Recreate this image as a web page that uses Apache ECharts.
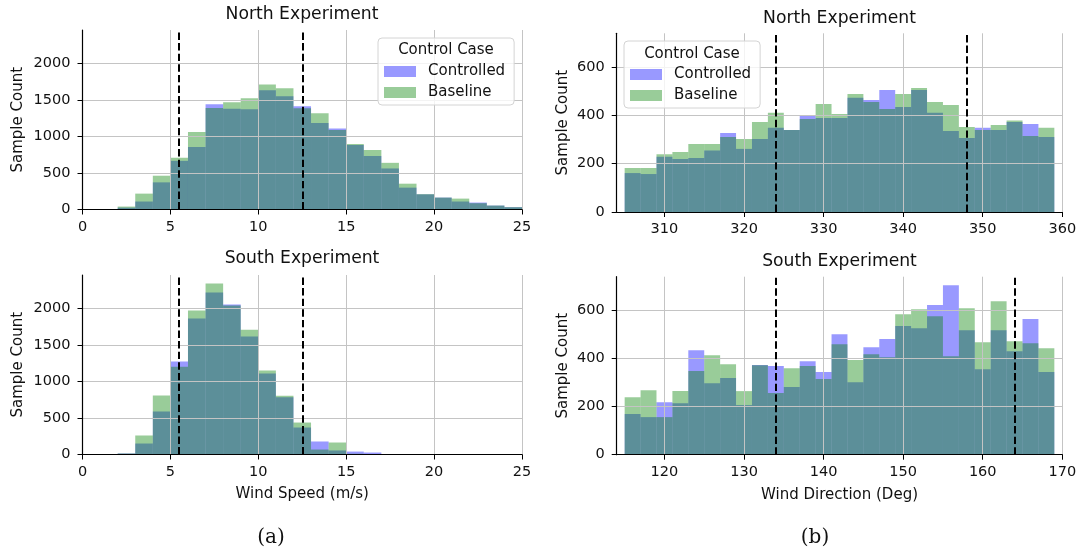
<!DOCTYPE html>
<html>
<head>
<meta charset="utf-8">
<script src="https://cdn.jsdelivr.net/npm/echarts@6/dist/echarts.min.js"></script>
<style>
html,body{margin:0;padding:0;background:#fff;}
#chart{width:1083px;height:554px;}
</style>
</head>
<body>
<div id="chart"></div>
<script>
// ---------- data ----------
const speedBinWidth = 1;
const northSpeedStart = 2;
const northSpeedCtrl = [25,109,371,665,855,1439,1376,1371,1629,1548,1412,1181,1109,882,733,561,299,207,163,109,95,54,32];
const northSpeedBase = [40,217,462,706,1059,1389,1466,1520,1710,1656,1385,1317,1086,896,814,638,353,210,163,149,86,54,32];
const southSpeedStart = 2;
const southSpeedCtrl = [14,150,588,1271,1859,2214,2050,1613,1107,784,369,178,55,40,27];
const southSpeedBase = [14,260,806,1198,1968,2337,2036,1704,1148,802,437,68,164,10,0];

const dirBinWidth = 2;
const northDirStart = 305;
const northDirCtrl = [161,157,228,219,223,254,327,261,302,348,339,397,389,389,472,463,505,434,505,410,335,306,348,339,372,364,310];
const northDirBase = [182,182,239,248,281,281,310,302,372,410,339,385,447,405,488,455,426,488,513,455,443,352,339,360,378,314,348];
const southDirStart = 115;
const southDirCtrl = [169,156,218,214,434,297,318,206,372,368,281,388,343,500,301,446,480,534,525,621,704,517,355,517,430,563,343];
const southDirBase = [239,268,156,264,347,413,376,264,371,256,359,368,314,459,393,417,405,583,604,575,409,608,467,637,471,463,442];

const speedTicks = [0,5,10,15,20,25];
const speedCountTicks = [0,500,1000,1500,2000];
const northDirTicks = [310,320,330,340,350,360];
const southDirTicks = [120,130,140,150,160,170];
const dirCountTicks = [0,200,400,600];

const speedThresholds = [5.5,12.5];
const northDirThresholds = [324,348];
const southDirThresholds = [134,164];

const titles = ['North Experiment','South Experiment','North Experiment','South Experiment'];
const seriesNames = ['Controlled','Baseline'];

// ---------- chart ----------
const FONT = "'DejaVu Sans', sans-serif";
const CTRL_COLOR = 'rgba(0,0,255,0.4)';
const BASE_COLOR = 'rgba(0,128,0,0.4)';
const TEXT = '#111';

function toBins(start, width, counts){
  return counts.map((c,i)=>[start + i*width, width, c]);
}
function renderBar(params, api){
  const x0 = api.value(0), w = api.value(1), y = api.value(2);
  const p0 = api.coord([x0, 0]);
  const p1 = api.coord([x0 + w, y]);
  return {type:'rect', shape:{x:p0[0], y:p1[1], width:p1[0]-p0[0], height:p0[1]-p1[1]},
          style:{fill: api.visual('color')}};
}

const grids = [
  {left:82.5, top:30, width:439.5, height:179.5},
  {left:82.5, top:275, width:439.5, height:179.5},
  {left:616.7, top:33.3, width:445.6, height:178.7},
  {left:616.7, top:276.7, width:445.6, height:178}
];

const plain = v => String(v);

function xAxisCfg(i, min, max, ticks, name){
  return {
    gridIndex:i, type:'value', min:min, max:max, interval: 5,
    axisLine:{show:true, onZero:false, lineStyle:{color:'#000', width:1.2}},
    axisTick:{show:true, length:5, customValues:ticks, lineStyle:{color:'#000', width:1}},
    axisLabel:{customValues:ticks, formatter:plain, fontSize:14.5, fontFamily:FONT, color:TEXT, margin:10},
    splitLine:{show:true, lineStyle:{color:'#c4c4c4', width:1}},
    name: name || '', nameLocation:'middle', nameGap:32.5,
    nameTextStyle:{fontSize:15, fontFamily:FONT, color:TEXT},
    z:3
  };
}
function yAxisCfg(i, max, ticks, gap){
  return {
    gridIndex:i, type:'value', min:0, max:max,
    axisLine:{show:true, lineStyle:{color:'#000', width:1.2}},
    axisTick:{show:true, length:5, customValues:ticks, lineStyle:{color:'#000', width:1}},
    axisLabel:{customValues:ticks, formatter:plain, fontSize:14.5, fontFamily:FONT, color:TEXT, margin:12},
    splitLine:{show:true, lineStyle:{color:'#c4c4c4', width:1}},
    name:'Sample Count', nameLocation:'middle', nameGap:gap,
    nameTextStyle:{fontSize:15, fontFamily:FONT, color:TEXT},
    z:3
  };
}

const xAxes = [
  xAxisCfg(0, 0, 25, speedTicks),
  xAxisCfg(1, 0, 25, speedTicks, 'Wind Speed (m/s)'),
  xAxisCfg(2, 304, 360, northDirTicks),
  xAxisCfg(3, 114, 170, southDirTicks, 'Wind Direction (Deg)')
];
const yAxes = [
  yAxisCfg(0, 2454, speedCountTicks, 56.5),
  yAxisCfg(1, 2454, speedCountTicks, 56.5),
  yAxisCfg(2, 739, dirCountTicks, 46),
  yAxisCfg(3, 739, dirCountTicks, 46)
];

const panels = [
  {ctrl: toBins(northSpeedStart, speedBinWidth, northSpeedCtrl), base: toBins(northSpeedStart, speedBinWidth, northSpeedBase), thr: speedThresholds},
  {ctrl: toBins(southSpeedStart, speedBinWidth, southSpeedCtrl), base: toBins(southSpeedStart, speedBinWidth, southSpeedBase), thr: speedThresholds},
  {ctrl: toBins(northDirStart, dirBinWidth, northDirCtrl), base: toBins(northDirStart, dirBinWidth, northDirBase), thr: northDirThresholds},
  {ctrl: toBins(southDirStart, dirBinWidth, southDirCtrl), base: toBins(southDirStart, dirBinWidth, southDirBase), thr: southDirThresholds}
];

const series = [];
panels.forEach((p, i)=>{
  series.push({type:'custom', name:seriesNames[0], xAxisIndex:i, yAxisIndex:i, renderItem:renderBar,
    data:p.ctrl, encode:{x:0, y:2}, itemStyle:{color:CTRL_COLOR}, z:2, silent:true, animation:false});
  series.push({type:'custom', name:seriesNames[1], xAxisIndex:i, yAxisIndex:i, renderItem:renderBar,
    data:p.base, encode:{x:0, y:2}, itemStyle:{color:BASE_COLOR}, z:2, silent:true, animation:false});
  series.push({type:'line', xAxisIndex:i, yAxisIndex:i, data:[], silent:true, animation:false,
    markLine:{silent:true, symbol:['none','none'], animation:false, label:{show:false},
      lineStyle:{color:'#000', width:2, type:[7.4,3.2]},
      emphasis:{disabled:true},
      data:p.thr.map(v=>({xAxis:v}))}});
});

function legendCfg(left, top){
  return {
    orient:'vertical', left:left, top:top,
    data:[{name:seriesNames[0], itemStyle:{color:CTRL_COLOR}}, {name:seriesNames[1], itemStyle:{color:BASE_COLOR}}],
    icon:'rect', itemWidth:32, itemHeight:11, itemGap:6,
    padding:[26,9,5,6],
    borderColor:'#d4d4d4', borderWidth:1, borderRadius:4,
    backgroundColor:'rgba(255,255,255,0.8)',
    textStyle:{fontSize:15, fontFamily:FONT, color:TEXT, padding:[0,0,0,7]},
    selectedMode:false, z:10
  };
}

function txt(x, y, text, size, family){
  return {type:'text', x:x, y:y, z:20,
    style:{text:text, font: size + 'px ' + (family || FONT), fill:TEXT,
      align:'center', verticalAlign:'middle', textAlign:'center', textVerticalAlign:'middle'}};
}

const option = {
  animation:false,
  backgroundColor:'#fff',
  grid: grids,
  xAxis: xAxes,
  yAxis: yAxes,
  legend:[legendCfg(378, 38), legendCfg(624, 41)],
  series: series,
  graphic:[
    txt(302, 15, titles[0], 17.2),
    txt(302, 259, titles[1], 17.2),
    txt(839.5, 19, titles[2], 17.2),
    txt(839.5, 262, titles[3], 17.2),
    txt(446, 50, 'Control Case', 15),
    txt(692, 54, 'Control Case', 15),
    txt(271, 538, '(a)', 20, "'DejaVu Serif', serif"),
    txt(815, 538, '(b)', 20, "'DejaVu Serif', serif")
  ]
};

const chart = echarts.init(document.getElementById('chart'), null, {renderer:'canvas'});
chart.setOption(option);
</script>
</body>
</html>
